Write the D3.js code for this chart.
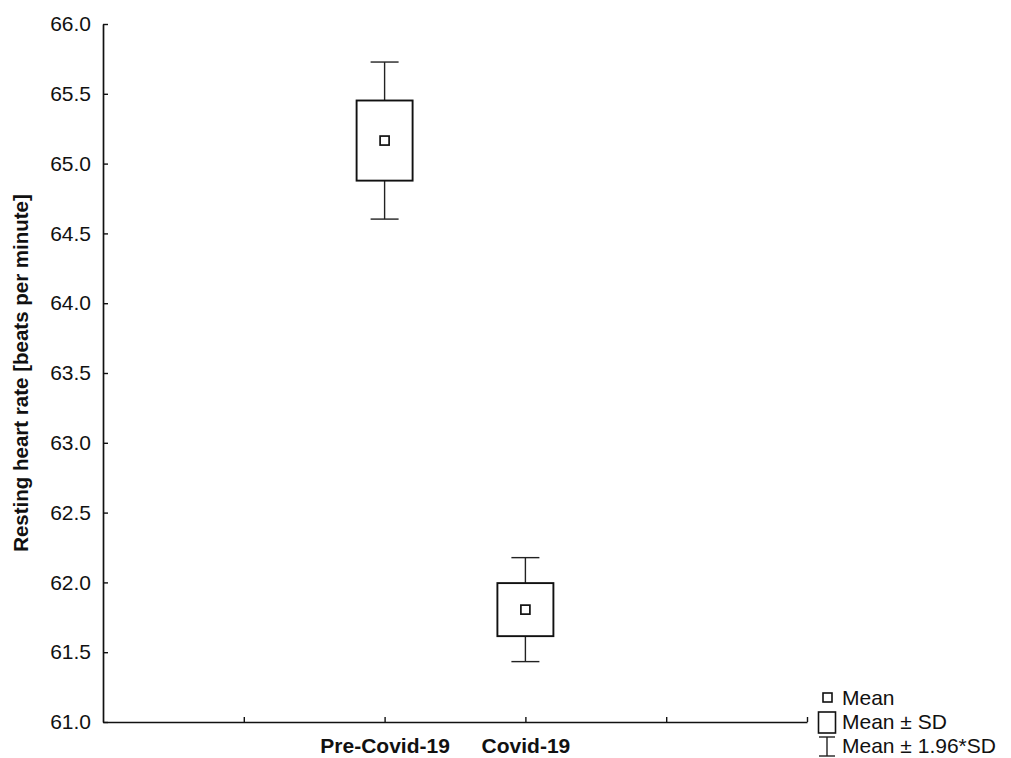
<!DOCTYPE html>
<html>
<head>
<meta charset="utf-8">
<script src="https://cdn.jsdelivr.net/npm/d3@7"></script>
<style>
  html, body { margin: 0; padding: 0; background: #fff; }
  svg { display: block; font-family: "Liberation Sans", Arial, sans-serif; }
  .tick text { fill: #111; }
</style>
</head>
<body>
<div id="chart"></div>
<script>
// Mean / ±SD / ±1.96*SD plot of resting heart rate, before vs during Covid-19.

const groups = ['Pre-Covid-19', 'Covid-19'];
const means = [65.165, 61.805];
const sds = [0.287, 0.19];
const yTicks = [61.0, 61.5, 62.0, 62.5, 63.0, 63.5, 64.0, 64.5, 65.0, 65.5, 66.0];
const legendLabels = ['Mean', 'Mean \u00b1 SD', 'Mean \u00b1 1.96*SD'];

const W = 1011, H = 758;
const svg = d3.select('#chart').append('svg')
  .attr('width', W).attr('height', H);

// x is a linear index scale: categories sit at 0 and 1, with empty slots either side
const x = d3.scaleLinear().domain([-2, 3]).range([103, 807]);
const y = d3.scaleLinear().domain([61, 66]).range([722, 24]);

// axes
const yAxis = d3.axisLeft(y).tickValues(yTicks).tickSizeInner(-5).tickSizeOuter(0)
  .tickPadding(12).tickFormat(d3.format('.1f'));
const gy = svg.append('g').attr('transform', `translate(${x(-2)},0)`).call(yAxis);

const xAxis = d3.axisBottom(x).tickValues([-1, 0, 1, 2, 3]).tickSizeInner(-5).tickSizeOuter(0)
  .tickPadding(16).tickFormat((d) => groups[d] || '');
const gx = svg.append('g').attr('transform', `translate(0,${y(61)})`).call(xAxis);

[gx, gy].forEach((g) => {
  g.select('.domain').attr('stroke', '#111').attr('stroke-width', 1.7);
  g.selectAll('.tick line').attr('stroke', '#111').attr('stroke-width', 1.4);
  g.selectAll('.tick text').attr('font-size', 21);
});
gx.selectAll('.tick text').attr('font-weight', 'bold');

svg.append('text')
  .attr('transform', `translate(28,${(y(61) + y(66)) / 2}) rotate(-90)`)
  .attr('text-anchor', 'middle')
  .attr('font-size', 20.5).attr('font-weight', 'bold').attr('fill', '#111')
  .text('Resting heart rate [beats per minute]');

// marks
const boxW = 56, capW = 28, meanS = 9;
const g = svg.append('g').selectAll('g').data(groups).join('g');

g.append('line')
  .attr('x1', (d, i) => x(i)).attr('x2', (d, i) => x(i))
  .attr('y1', (d, i) => y(means[i] + 1.96 * sds[i]))
  .attr('y2', (d, i) => y(means[i] - 1.96 * sds[i]))
  .attr('stroke', '#222').attr('stroke-width', 1.4);

[1, -1].forEach((s) => {
  g.append('line')
    .attr('x1', (d, i) => x(i) - capW / 2).attr('x2', (d, i) => x(i) + capW / 2)
    .attr('y1', (d, i) => y(means[i] + s * 1.96 * sds[i]))
    .attr('y2', (d, i) => y(means[i] + s * 1.96 * sds[i]))
    .attr('stroke', '#222').attr('stroke-width', 1.4);
});

g.append('rect')
  .attr('x', (d, i) => x(i) - boxW / 2)
  .attr('y', (d, i) => y(means[i] + sds[i]))
  .attr('width', boxW)
  .attr('height', (d, i) => y(means[i] - sds[i]) - y(means[i] + sds[i]))
  .attr('fill', '#fff').attr('stroke', '#111').attr('stroke-width', 1.9);

g.append('rect')
  .attr('x', (d, i) => x(i) - meanS / 2)
  .attr('y', (d, i) => y(means[i]) - meanS / 2)
  .attr('width', meanS).attr('height', meanS)
  .attr('fill', '#fff').attr('stroke', '#111').attr('stroke-width', 1.7);

// legend
const lg = svg.append('g').attr('font-size', 21).attr('fill', '#111');
lg.append('rect').attr('x', 823).attr('y', 693).attr('width', 9).attr('height', 9)
  .attr('fill', '#fff').attr('stroke', '#111').attr('stroke-width', 1.6);
lg.append('rect').attr('x', 818.5).attr('y', 712).attr('width', 17).attr('height', 21)
  .attr('fill', '#fff').attr('stroke', '#111').attr('stroke-width', 1.6);
lg.append('line').attr('x1', 827).attr('x2', 827).attr('y1', 737).attr('y2', 756)
  .attr('stroke', '#222').attr('stroke-width', 1.4);
[737, 756].forEach((yy) => {
  lg.append('line').attr('x1', 819).attr('x2', 835).attr('y1', yy).attr('y2', yy)
    .attr('stroke', '#222').attr('stroke-width', 1.4);
});
lg.selectAll('text').data(legendLabels).join('text')
  .attr('x', 842).attr('y', (d, i) => 705 + i * 24)
  .text((d) => d);
</script>
</body>
</html>
